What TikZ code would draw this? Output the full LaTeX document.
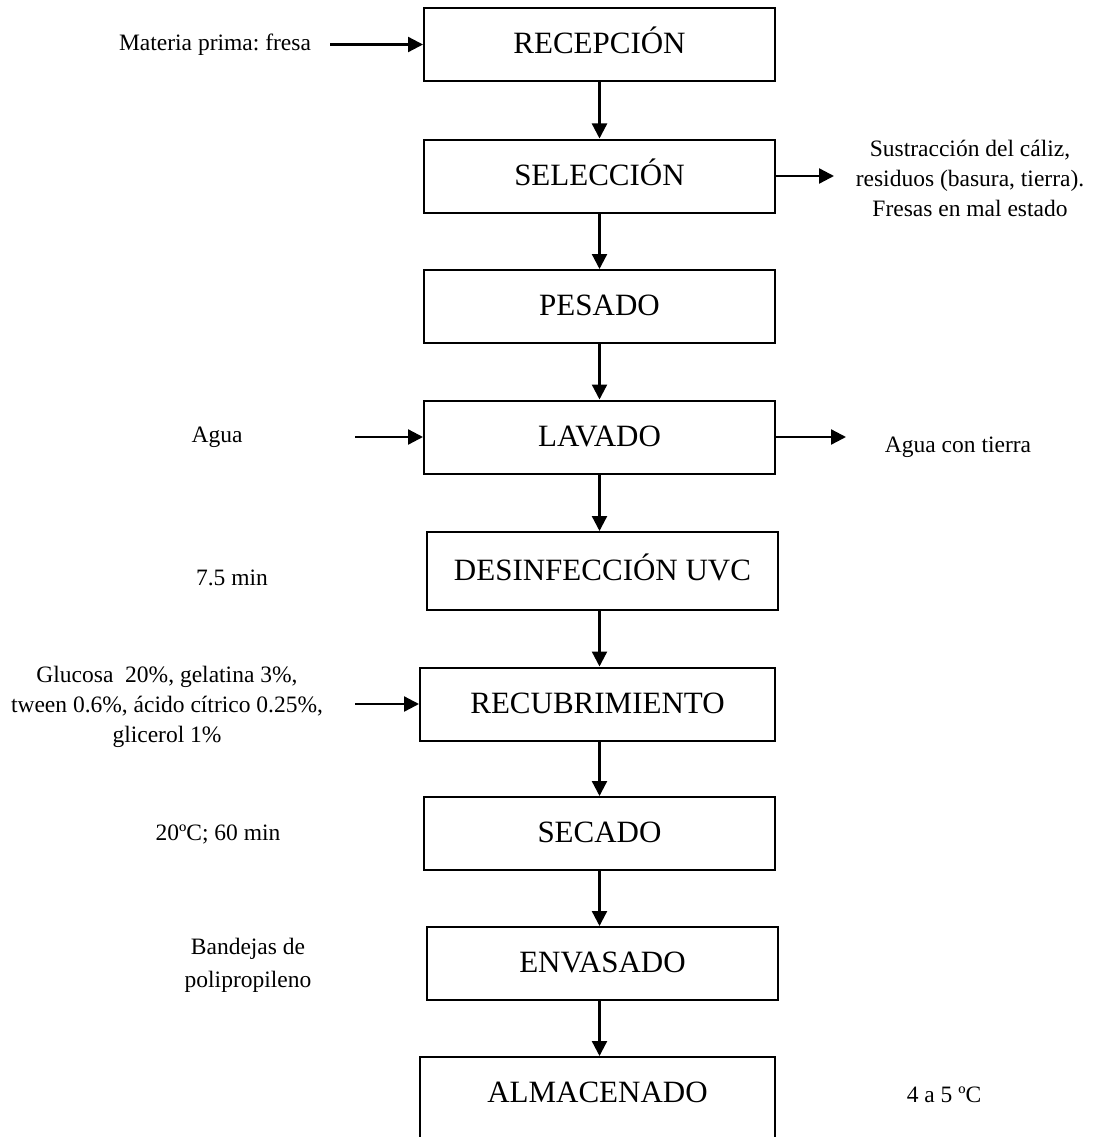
\documentclass[tikz,border=0pt]{standalone}
\usepackage{fontspec}
\setmainfont{Liberation Serif}
\usetikzlibrary{arrows.meta}
\frenchspacing
\begin{document}
\begin{tikzpicture}[x=1pt,y=-1pt,
  stepbox/.style={draw, line width=2pt, minimum width=351pt, minimum height=73pt,
    inner sep=0pt, font=\fontsize{31}{36}\selectfont, text height=21pt, text depth=3pt},
  lastbox/.style={stepbox, minimum height=100pt, text depth=30pt},
  side/.style={font=\fontsize{23.5}{30}\selectfont, align=center, inner sep=0pt},
  flow/.style={line width=2.3pt, -{Triangle[length=15pt,width=15pt]}}]
\useasboundingbox (0,0) rectangle (1097,1137);
% process boxes
\node[stepbox] (rec) at (599.5,44.5) {RECEPCIÓN};
\node[stepbox] (sel) at (599.5,176) {SELECCIÓN};
\node[stepbox] (pes) at (599.5,306.5) {PESADO};
\node[stepbox] (lav) at (599.5,437) {LAVADO};
\node[stepbox, minimum height=78pt] (des) at (602.5,571) {DESINFECCIÓN UVC};
\node[stepbox, minimum width=355pt] (recu) at (597.5,704) {RECUBRIMIENTO};
\node[stepbox] (sec) at (599.5,833.5) {SECADO};
\node[stepbox] (env) at (602.5,963.5) {ENVASADO};
\node[lastbox, minimum width=355pt] (alm) at (597.5,1107) {ALMACENADO};
% vertical flow
\draw[flow] (rec.south) -- (rec.south |- sel.north);
\draw[flow] (sel.south) -- (sel.south |- pes.north);
\draw[flow] (pes.south) -- (pes.south |- lav.north);
\draw[flow] (lav.south) -- (lav.south |- des.north);
\draw[flow] (des.south -| lav.south) -- (lav.south |- recu.north);
\draw[flow] (recu.south -| lav.south) -- (lav.south |- sec.north);
\draw[flow] (sec.south) -- (sec.south |- env.north);
\draw[flow] (env.south -| sec.south) -- (sec.south |- alm.north);
% side texts
\node[side, anchor=base] (mat) at (215,51) {Materia prima: fresa};
\coordinate (matend) at (330,44.5);
\draw[flow] (matend) -- (rec.west);
\node[side] (sust) at (970,178) {Sustracción del cáliz,\\residuos (basura, tierra).\\Fresas en mal estado};
\coordinate (selend) at (834,176);
\draw[flow] (sel.east) -- (selend);
\node[side, anchor=base] (agua) at (217,442) {Agua};
\coordinate (aguaend) at (355,437);
\draw[flow] (aguaend) -- (lav.west);
\node[side, anchor=base] (agt) at (958,452) {Agua con tierra};
\coordinate (lavend) at (846,437);
\draw[flow] (lav.east) -- (lavend);
\node[side, anchor=base] (min) at (232,585) {7.5 min};
\node[side] (glu) at (167,707) {Glucosa~ 20\%, gelatina 3\%,\\tween 0.6\%, ácido cítrico 0.25\%,\\glicerol 1\%};
\coordinate (gluend) at (355,704);
\draw[flow] (gluend) -- (recu.west);
\node[side, anchor=base] (temp) at (218,840) {20ºC; 60 min};
\node[side, font=\fontsize{23.5}{33}\selectfont] (band) at (248,965) {Bandejas de\\polipropileno};
\node[side, anchor=base] (alt) at (944,1102) {4 a 5 ºC};
\end{tikzpicture}
\end{document}
